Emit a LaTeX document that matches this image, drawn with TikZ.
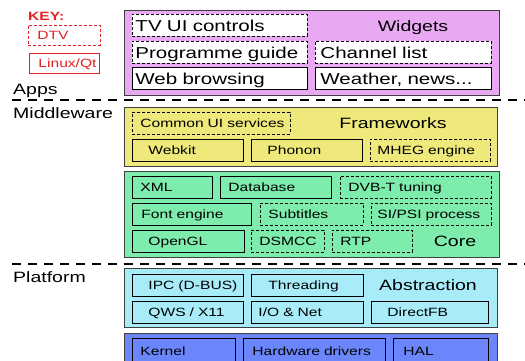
\documentclass[tikz,border=0pt]{standalone}
\usepackage{fontspec}
\setmainfont{Liberation Sans}[FakeStretch=1.3]
\usepackage{xcolor}

\definecolor{appsviolet}{RGB}{233,168,242}
\definecolor{mwyellow}{RGB}{238,233,122}
\definecolor{coregreen}{RGB}{125,236,172}
\definecolor{abscyan}{RGB}{168,236,250}
\definecolor{halblue}{RGB}{106,134,250}
\definecolor{keyred}{RGB}{226,34,34}

\begin{document}
\begin{tikzpicture}[x=1pt, y=-1pt,
  layer/.style={draw=black!75, line width=1pt, anchor=north west, inner sep=0pt},
  qtbox/.style 2 args={draw=black, line width=0.9pt, anchor=north west,
    inner xsep=0pt, inner ysep=0pt, text width=#1pt, minimum height=22pt,
    align=left, font=\fontsize{12}{14}\selectfont, text height=10.6pt, text depth=2pt,
    execute at begin node={\noindent\hspace*{#2pt}}},
  dtvbox/.style 2 args={qtbox={#1}{#2}, dash pattern=on 3pt off 2pt},
  appbox/.style 2 args={qtbox={#1}{#2}, fill=white,
    font=\fontsize{15.8}{18}\selectfont, text height=13.3pt},
  appdtv/.style 2 args={appbox={#1}{#2}, dash pattern=on 3pt off 2pt},
  title/.style={font=\fontsize{15}{18}\selectfont, inner sep=0pt, text height=10.8pt, text depth=0pt},
  side/.style={font=\fontsize{15}{18}\selectfont, inner sep=0pt, anchor=base west},
  sep/.style={line width=1.5pt, dash pattern=on 9pt off 7pt}]

  \useasboundingbox (0,0) rectangle (525,361);
  \clip (0,0) rectangle (525,361);

  % Key
  \node[font=\bfseries\fontsize{12}{14}\selectfont, text=keyred, anchor=base west, inner sep=0pt] (key) at (28,20.5) {KEY:};
  \node[dtvbox={72}{9}, draw=keyred, text=keyred, fill=white, minimum height=20pt] (dtvkey) at (28,25) {DTV};
  \node[qtbox={70}{9}, draw=keyred, text=keyred, fill=white, minimum height=20pt] (qtkey) at (29,53) {Linux/Qt};

  % Side labels and separators
  \node[side] (appslbl) at (13,95) {Apps};
  \node[side] (mwlbl) at (13,118) {Middleware};
  \node[side] (platlbl) at (13,282) {Platform};

  \coordinate (sepa) at (12,100);
  \coordinate (sepb) at (525,100);
  \coordinate (sepc) at (12,264);
  \coordinate (sepd) at (525,264);
  \draw[sep] (sepa) -- (sepb);
  \draw[sep] (sepc) -- (sepd);

  % Apps
  \node[layer, fill=appsviolet, minimum width=375pt, minimum height=85pt] (apps) at (124,10) {};
  \node[appdtv={175}{3}] (tvui) at (132,14) {TV UI controls};
  \node[title] (widgets) at (413,26) {Widgets};
  \node[appdtv={175}{3}] (guide) at (132,41) {Programme guide};
  \node[appdtv={176}{5}] (chanlist) at (315,41) {Channel list};
  \node[appbox={175}{3}] (web) at (132,67) {Web browsing};
  \node[appbox={176}{5}] (weather) at (315,67) {Weather, news...};

  % Frameworks
  \node[layer, fill=mwyellow, minimum width=373pt, minimum height=59pt] (frameworks) at (124,107) {};
  \node[dtvbox={158}{8}] (commonui) at (132,112) {Common UI services};
  \node[title] (fwtitle) at (393,123) {Frameworks};
  \node[qtbox={111}{16}] (webkit) at (132,139) {Webkit};
  \node[qtbox={111}{16}] (phonon) at (251,139) {Phonon};
  \node[dtvbox={120}{7}] (mheg) at (370,139) {MHEG engine};

  % Core
  \node[layer, fill=coregreen, minimum width=375pt, minimum height=86pt] (core) at (124,171) {};
  \node[qtbox={80}{8}] (xml) at (132,176) {XML};
  \node[qtbox={111}{8}] (database) at (220,176) {Database};
  \node[dtvbox={151}{8}] (dvbt) at (340,176) {DVB-T tuning};
  \node[qtbox={119}{9}] (fonteng) at (132,203) {Font engine};
  \node[dtvbox={103}{8}] (subtitles) at (260,203) {Subtitles};
  \node[dtvbox={120}{6}] (sipsi) at (371,203) {SI/PSI process};
  \node[qtbox={112}{16}] (opengl) at (132,230) {OpenGL};
  \node[dtvbox={73}{8}] (dsmcc) at (251,230) {DSMCC};
  \node[dtvbox={80}{8}] (rtp) at (332,230) {RTP};
  \node[title] (coretitle) at (455,241) {Core};

  % Abstraction
  \node[layer, fill=abscyan, minimum width=373pt, minimum height=59pt] (abstraction) at (124,268) {};
  \node[qtbox={111}{16}] (ipc) at (132,274) {IPC (D-BUS)};
  \node[qtbox={112}{17}] (threading) at (251,274) {Threading};
  \node[title] (abstitle) at (428,285) {Abstraction};
  \node[qtbox={111}{16}] (qws) at (132,301) {QWS / X11};
  \node[qtbox={112}{7}] (ionet) at (251,301) {I/O \& Net};
  \node[qtbox={117}{16}] (directfb) at (371,301) {DirectFB};

  % HAL
  \node[layer, fill=halblue, minimum width=373pt, minimum height=40pt] (hal) at (124,333) {};
  \node[qtbox={103}{8}, minimum height=26pt] (kernel) at (132,338) {Kernel};
  \node[qtbox={142}{9}, minimum height=26pt] (hwdrivers) at (243,338) {Hardware drivers};
  \node[qtbox={95}{10}, minimum height=26pt] (halbox) at (393,338) {HAL};
\end{tikzpicture}
\end{document}
